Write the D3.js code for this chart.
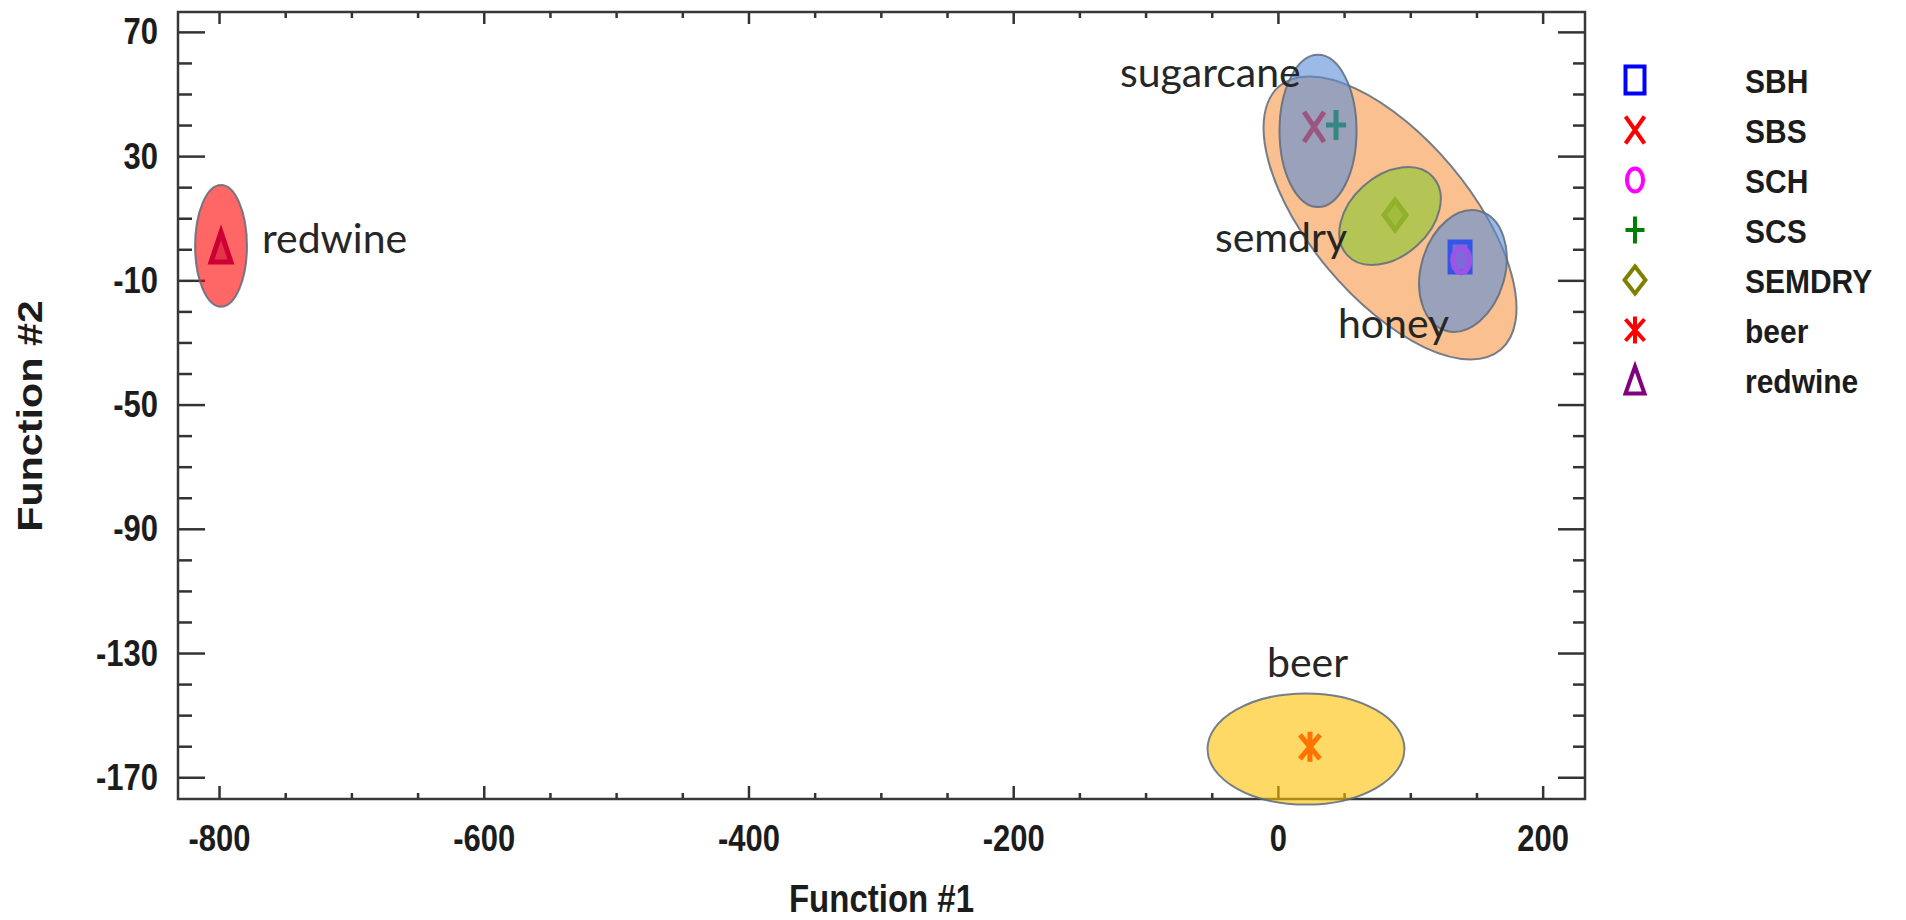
<!DOCTYPE html>
<html>
<head>
<meta charset="utf-8">
<script src="https://cdn.jsdelivr.net/npm/d3@7"></script>
<style>
  body { margin: 0; background: #fff; }
  svg { display: block; }
  .stat { font-family: "Liberation Sans", Arial, sans-serif; font-weight: bold; fill: #1c1c1c; }
  .note { font-family: Lato, "Open Sans", sans-serif; fill: #262626; }
</style>
</head>
<body>
<div id="chart"></div>
<script>
// group ellipses: centre and radii in axis units, tilt in degrees
var ellipseNames = ['all', 'sugarcane', 'semdry', 'honey', 'redwine', 'beer'];
var ellipseCx = [84.7, 30.3, 84.7, 139.8, -798.5, 21.2];
var ellipseCy = [10.1, 38.1, 10.7, -7.0, 1.1, -160.9];
var ellipseRx = [130, 29.1, 43.8, 31.7, 19.6, 74.4];
var ellipseRy = [25.8, 24.5, 12.9, 20.0, 19.6, 17.9];
var ellipseTilt = [50, 0, -42, 16, 0, 0];

// group centroids (Function #1, Function #2)
var series = ['SBH', 'SBS', 'SCH', 'SCS', 'SEMDRY', 'beer', 'redwine'];
var pointX = [137.6, 27.3, 138.5, 43.9, 88.5, 24.2, -798.5];
var pointY = [-2.5, 39.4, -3.5, 40.0, 11.0, -160.2, 0.7];

var xTicks = [-800, -600, -400, -200, 0, 200];
var yTicks = [70, 30, -10, -50, -90, -130, -170];

// hand written labels next to the ellipses
var noteText = ['sugarcane', 'semdry', 'honey', 'redwine', 'beer'];
var noteX = [-119.4, -47.6, 45.3, -767.6, -8.3];
var noteY = [52.3, -0.9, -28.6, -1.2, -137.7];

var width = 1906, height = 920;
var plotLeft = 178, plotRight = 1585, plotTop = 12, plotBottom = 799;

var ellipseFill = {
    all: ['#f79646', 0.6],
    sugarcane: ['#5a8cd7', 0.6],
    semdry: ['#96c83c', 0.7],
    honey: ['#5a8cd7', 0.6],
    redwine: ['#ff0000', 0.6],
    beer: ['#ffc000', 0.6]
};
var markerShape = {SBH: 'square', SBS: 'cross', SCH: 'circle', SCS: 'plus',
    SEMDRY: 'diamond', beer: 'star', redwine: 'triangle'};
var markerColor = {SBH: '#0000ff', SBS: '#ff0000', SCH: '#ff00ff', SCS: '#008000',
    SEMDRY: '#808000', beer: '#ff0000', redwine: '#800080'};

function markerPath(shape, w, h) {
    switch (shape) {
        case 'square': return 'M' + (-w) + ',' + (-h) + 'H' + w + 'V' + h + 'H' + (-w) + 'Z';
        case 'cross': return 'M' + (-w) + ',' + (-h) + 'L' + w + ',' + h + 'M' + w + ',' + (-h) + 'L' + (-w) + ',' + h;
        case 'circle':
            var cw = w * 0.85, ch = h * 0.85;
            return 'M' + (-cw) + ',0A' + cw + ',' + ch + ' 0 1,0 ' + cw + ',0A' + cw + ',' + ch + ' 0 1,0 ' + (-cw) + ',0Z';
        case 'plus': return 'M' + (-w) + ',0H' + w + 'M0,' + (-h) + 'V' + h;
        case 'diamond': return 'M0,' + (-h) + 'L' + (w * 1.1) + ',0L0,' + h + 'L' + (-w * 1.1) + ',0Z';
        case 'star': return 'M' + (-w) + ',' + (-h * 0.8) + 'L' + w + ',' + (h * 0.8) + 'M' + w + ',' + (-h * 0.8) +
            'L' + (-w) + ',' + (h * 0.8) + 'M0,' + (-h) + 'V' + h;
        case 'triangle': return 'M0,' + (-h) + 'L' + w + ',' + h + 'L' + (-w) + ',' + h + 'Z';
    }
}

var svg = d3.select('#chart')
    .append('svg')
        .attr('width', width)
        .attr('height', height);

var x = d3.scaleLinear().domain([-831, 232]).range([plotLeft, plotRight]);
var y = d3.scaleLinear().domain([-177, 76.4]).range([plotBottom, plotTop]);

var fmt = function (d) { return String(d); };
var xMinor = d3.range(-800, 201, 50).filter(function (d) { return xTicks.indexOf(d) < 0; });
var yMinor = d3.range(-170, 71, 10).filter(function (d) { return yTicks.indexOf(d) < 0; });

// ticks on all four sides, pointing in
function drawAxis(axis, tx, ty) {
    var g = svg.append('g')
        .attr('transform', 'translate(' + tx + ',' + ty + ')')
        .call(axis);
    g.select('.domain').remove();
    g.selectAll('line').attr('stroke', '#333').attr('stroke-width', 2.5);
    return g;
}

var gx = drawAxis(d3.axisBottom(x).tickValues(xTicks).tickFormat(fmt).tickSizeInner(-13).tickSizeOuter(0).tickPadding(20.5), 0, plotBottom);
drawAxis(d3.axisBottom(x).tickValues(xMinor).tickFormat('').tickSizeInner(-6).tickSizeOuter(0), 0, plotBottom);
drawAxis(d3.axisTop(x).tickValues(xTicks).tickFormat('').tickSizeInner(-12).tickSizeOuter(0), 0, plotTop);
drawAxis(d3.axisTop(x).tickValues(xMinor).tickFormat('').tickSizeInner(-6).tickSizeOuter(0), 0, plotTop);

var gy = drawAxis(d3.axisLeft(y).tickValues(yTicks).tickFormat(fmt).tickSizeInner(-27).tickSizeOuter(0).tickPadding(20), plotLeft, 0);
drawAxis(d3.axisLeft(y).tickValues(yMinor).tickFormat('').tickSizeInner(-14).tickSizeOuter(0), plotLeft, 0);
drawAxis(d3.axisRight(y).tickValues(yTicks).tickFormat('').tickSizeInner(-27).tickSizeOuter(0), plotRight, 0);
drawAxis(d3.axisRight(y).tickValues(yMinor).tickFormat('').tickSizeInner(-12).tickSizeOuter(0), plotRight, 0);

[gx, gy].forEach(function (g) {
    g.attr('font-family', null).attr('font-size', null);
    g.selectAll('text')
        .attr('class', 'stat')
        .attr('fill', null)
        .style('font-size', '31px')
        .attr('transform', 'scale(1,1.22)');
});

svg.append('rect')
    .attr('x', plotLeft)
    .attr('y', plotTop)
    .attr('width', plotRight - plotLeft)
    .attr('height', plotBottom - plotTop)
    .attr('fill', 'none')
    .attr('stroke', '#383838')
    .attr('stroke-width', 2.5);

var ellipses = ellipseNames.map(function (name, i) {
    return {name: name, cx: ellipseCx[i], cy: ellipseCy[i], rx: ellipseRx[i], ry: ellipseRy[i], tilt: ellipseTilt[i]};
});
var points = series.map(function (name, i) {
    return {name: name, x: pointX[i], y: pointY[i]};
});

function drawEllipses(data) {
    svg.append('g').selectAll('ellipse')
        .data(data)
        .enter()
        .append('ellipse')
            .attr('transform', function (d) {
                return 'translate(' + x(d.cx) + ',' + y(d.cy) + ') rotate(' + d.tilt + ')';
            })
            .attr('rx', function (d) { return x(d.cx + d.rx) - x(d.cx); })
            .attr('ry', function (d) { return y(d.cy) - y(d.cy + d.ry); })
            .style('fill', function (d) { return ellipseFill[d.name][0]; })
            .style('fill-opacity', function (d) { return ellipseFill[d.name][1]; })
            .style('stroke', '#5d6b7c')
            .style('stroke-opacity', 0.85)
            .style('stroke-width', 2);
}

// big ellipse sits under the markers, the group ellipses over them
drawEllipses(ellipses.slice(0, 1));

svg.append('g').selectAll('path')
    .data(points)
    .enter()
    .append('path')
        .attr('transform', function (d) { return 'translate(' + x(d.x) + ',' + y(d.y) + ')'; })
        .attr('d', function (d) { return markerPath(markerShape[d.name], 10, 15); })
        .style('fill', function (d) { return markerColor[d.name]; })
        .style('fill-opacity', 0.5)
        .style('stroke', function (d) { return markerColor[d.name]; })
        .style('stroke-width', 5);

drawEllipses(ellipses.slice(1));

svg.append('g').selectAll('text')
    .data(noteText)
    .enter()
    .append('text')
        .attr('class', 'note')
        .attr('x', function (d, i) { return x(noteX[i]); })
        .attr('y', function (d, i) { return y(noteY[i]); })
        .style('font-size', '41px')
        .text(function (d) { return d; });

// axis titles
svg.append('text')
    .attr('class', 'stat')
    .attr('text-anchor', 'middle')
    .attr('transform', 'translate(' + ((plotLeft + plotRight) / 2) + ',912) scale(1,1.2)')
    .style('font-size', '33px')
    .text('Function #1');

svg.append('text')
    .attr('class', 'stat')
    .attr('text-anchor', 'middle')
    .attr('transform', 'translate(42,416) rotate(-90) scale(1.18,1)')
    .style('font-size', '35px')
    .text('Function #2');

// legend
var legend = svg.append('g').selectAll('g')
    .data(series)
    .enter()
    .append('g')
        .attr('transform', function (d, i) { return 'translate(1635,' + (80 + i * 50) + ')'; });

legend.append('path')
    .attr('d', function (d) { return markerPath(markerShape[d], 9.5, 13.5); })
    .style('fill', 'none')
    .style('stroke', function (d) { return markerColor[d]; })
    .style('stroke-width', 4);

legend.append('text')
    .attr('class', 'stat')
    .attr('transform', 'translate(110,13) scale(1,1.1)')
    .style('font-size', '30px')
    .text(function (d) { return d; });
</script>
</body>
</html>
